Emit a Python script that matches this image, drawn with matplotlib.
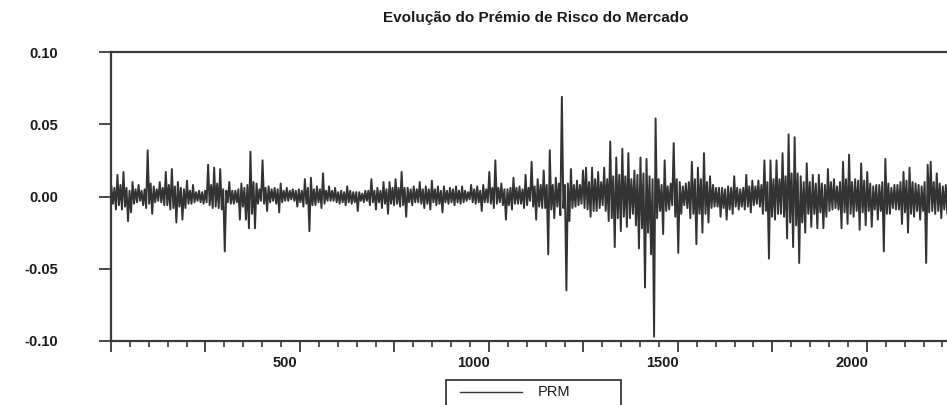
import matplotlib
matplotlib.use('Agg')
import matplotlib.pyplot as plt
import numpy as np
from matplotlib.ticker import MultipleLocator, FixedLocator, FixedFormatter, FuncFormatter
from matplotlib.patches import Rectangle
from matplotlib.lines import Line2D
import matplotlib.transforms as mtrans

plt.rcParams['font.family'] = ['Liberation Sans', 'DejaVu Sans']

title = "Evolução do Prémio de Risco do Mercado"
series_name = "PRM"
bucket_obs = 8  # each bucket covers 8 observations

# upper excursion of the series in each bucket
prm_hi = [
    0.007, 0.006, 0.015, 0.008, 0.017, 0.006, 0.004, 0.010, 0.005, 0.008,
    0.004, 0.005, 0.032, 0.009, 0.007, 0.005, 0.010, 0.006, 0.017, 0.008,
    0.019, 0.007, 0.010, 0.006, 0.005, 0.011, 0.004, 0.008, 0.003, 0.004,
    0.003, 0.004, 0.022, 0.008, 0.020, 0.009, 0.019, 0.005, 0.004, 0.010,
    0.004, 0.004, 0.005, 0.009, 0.006, 0.008, 0.031, 0.010, 0.009, 0.005,
    0.025, 0.006, 0.007, 0.005, 0.006, 0.005, 0.009, 0.004, 0.006, 0.004,
    0.005, 0.004, 0.005, 0.004, 0.012, 0.006, 0.013, 0.005, 0.007, 0.005,
    0.016, 0.004, 0.007, 0.004, 0.006, 0.003, 0.004, 0.003, 0.007, 0.004,
    0.003, 0.003, 0.003, 0.002, 0.004, 0.004, 0.012, 0.004, 0.006, 0.004,
    0.010, 0.005, 0.010, 0.006, 0.012, 0.006, 0.017, 0.006, 0.006, 0.005,
    0.007, 0.005, 0.010, 0.005, 0.007, 0.005, 0.011, 0.005, 0.007, 0.004,
    0.007, 0.004, 0.006, 0.005, 0.007, 0.004, 0.007, 0.004, 0.003, 0.008,
    0.005, 0.007, 0.004, 0.008, 0.005, 0.017, 0.006, 0.025, 0.006, 0.009,
    0.005, 0.005, 0.006, 0.013, 0.006, 0.007, 0.005, 0.015, 0.006, 0.024,
    0.007, 0.012, 0.008, 0.018, 0.008, 0.032, 0.008, 0.013, 0.009, 0.069,
    0.008, 0.009, 0.019, 0.008, 0.011, 0.008, 0.018, 0.020, 0.010, 0.020,
    0.012, 0.017, 0.010, 0.020, 0.012, 0.038, 0.014, 0.027, 0.015, 0.033,
    0.014, 0.030, 0.012, 0.018, 0.015, 0.027, 0.016, 0.026, 0.014, 0.012,
    0.054, 0.012, 0.008, 0.025, 0.007, 0.009, 0.037, 0.012, 0.010, 0.007,
    0.009, 0.010, 0.024, 0.012, 0.020, 0.012, 0.030, 0.010, 0.014, 0.008,
    0.006, 0.006, 0.006, 0.005, 0.007, 0.006, 0.014, 0.006, 0.005, 0.006,
    0.015, 0.007, 0.011, 0.007, 0.011, 0.008, 0.025, 0.010, 0.025, 0.012,
    0.025, 0.012, 0.030, 0.014, 0.043, 0.016, 0.041, 0.016, 0.014, 0.010,
    0.023, 0.010, 0.015, 0.009, 0.015, 0.009, 0.008, 0.019, 0.010, 0.012,
    0.007, 0.010, 0.024, 0.012, 0.029, 0.010, 0.012, 0.011, 0.023, 0.011,
    0.017, 0.009, 0.007, 0.008, 0.008, 0.010, 0.026, 0.009, 0.006, 0.008,
    0.008, 0.010, 0.017, 0.011, 0.020, 0.010, 0.009, 0.008, 0.007, 0.010,
    0.022, 0.024, 0.010, 0.016, 0.009, 0.007, 0.008,
]

# lower excursion of the series in each bucket
prm_lo = [
    -0.005, -0.009, -0.006, -0.009, -0.007, -0.017, -0.011, -0.005, -0.004, -0.003,
    -0.006, -0.008, -0.005, -0.012, -0.004, -0.003, -0.004, -0.006, -0.006, -0.009,
    -0.008, -0.018, -0.007, -0.016, -0.008, -0.005, -0.005, -0.004, -0.003, -0.004,
    -0.005, -0.004, -0.006, -0.008, -0.007, -0.008, -0.009, -0.038, -0.004, -0.005,
    -0.005, -0.004, -0.016, -0.007, -0.016, -0.022, -0.012, -0.022, -0.005, -0.003,
    -0.005, -0.010, -0.004, -0.003, -0.005, -0.011, -0.004, -0.003, -0.003, -0.002,
    -0.003, -0.007, -0.004, -0.007, -0.005, -0.024, -0.006, -0.006, -0.004, -0.008,
    -0.005, -0.003, -0.003, -0.003, -0.004, -0.005, -0.004, -0.006, -0.004, -0.005,
    -0.004, -0.010, -0.003, -0.004, -0.003, -0.006, -0.004, -0.009, -0.004, -0.008,
    -0.005, -0.012, -0.005, -0.006, -0.005, -0.007, -0.006, -0.014, -0.004, -0.006,
    -0.004, -0.004, -0.005, -0.008, -0.005, -0.009, -0.004, -0.006, -0.005, -0.011,
    -0.004, -0.005, -0.004, -0.006, -0.004, -0.005, -0.004, -0.003, -0.002, -0.004,
    -0.005, -0.004, -0.010, -0.004, -0.004, -0.005, -0.008, -0.005, -0.004, -0.006,
    -0.016, -0.006, -0.009, -0.005, -0.005, -0.005, -0.008, -0.006, -0.003, -0.007,
    -0.016, -0.007, -0.008, -0.008, -0.040, -0.009, -0.015, -0.007, -0.013, -0.008,
    -0.065, -0.017, -0.008, -0.007, -0.006, -0.005, -0.008, -0.009, -0.014, -0.010,
    -0.010, -0.008, -0.006, -0.010, -0.017, -0.015, -0.035, -0.015, -0.024, -0.014,
    -0.021, -0.015, -0.012, -0.020, -0.036, -0.022, -0.063, -0.025, -0.040, -0.097,
    -0.015, -0.010, -0.026, -0.010, -0.009, -0.006, -0.014, -0.039, -0.012, -0.006,
    -0.008, -0.015, -0.012, -0.033, -0.012, -0.025, -0.012, -0.018, -0.008, -0.007,
    -0.007, -0.014, -0.008, -0.016, -0.009, -0.012, -0.007, -0.009, -0.007, -0.009,
    -0.007, -0.011, -0.006, -0.005, -0.007, -0.012, -0.010, -0.043, -0.014, -0.016,
    -0.012, -0.012, -0.014, -0.029, -0.018, -0.035, -0.020, -0.046, -0.018, -0.025,
    -0.012, -0.021, -0.012, -0.022, -0.011, -0.022, -0.014, -0.010, -0.009, -0.008,
    -0.009, -0.022, -0.011, -0.019, -0.012, -0.014, -0.010, -0.023, -0.011, -0.020,
    -0.010, -0.021, -0.009, -0.016, -0.010, -0.038, -0.012, -0.012, -0.008, -0.009,
    -0.009, -0.019, -0.011, -0.025, -0.012, -0.014, -0.010, -0.016, -0.010, -0.046,
    -0.011, -0.010, -0.012, -0.010, -0.015, -0.009, -0.012,
]

ytick_values = [-0.10, -0.05, 0.00, 0.05, 0.10]
ytick_labels = ["-0.10", "-0.05", "0.00", "0.05", "0.10"]
xtick_labels = [500, 1000, 1500, 2000]

# build the series: high then low within each bucket
n = len(prm_hi)
start = np.arange(n) * bucket_obs + 1
obs = np.column_stack([start, start + bucket_obs // 2]).ravel()
prm = np.column_stack([prm_hi, prm_lo]).ravel()

W, H = 947, 405
fig = plt.figure(figsize=(W / 100, H / 100), dpi=100)
ax = fig.add_axes([111 / W, (H - 341) / H, 907 / W, (341 - 52) / H])

line_color = '#333333'
ax.plot(obs, prm, color=line_color, lw=1.4)

ax.set_xlim(0, 2400)
ax.set_ylim(-0.10, 0.10)

for s in ['left', 'top', 'bottom', 'right']:
    ax.spines[s].set_color('#3a3a3a')
    ax.spines[s].set_linewidth(1.6)

ax.yaxis.set_major_locator(FixedLocator(ytick_values))
ax.yaxis.set_major_formatter(FixedFormatter(ytick_labels))
ax.tick_params(axis='y', direction='out', length=9, width=1.3, pad=29,
               labelsize=10.5, colors='#3a3a3a', labelcolor='#1a1a1a')

ax.xaxis.set_major_locator(MultipleLocator(250))
ax.xaxis.set_minor_locator(MultipleLocator(50))
ax.xaxis.set_major_formatter(FuncFormatter(
    lambda v, p: str(int(round(v))) if int(round(v)) in xtick_labels else ''))
ax.tick_params(axis='x', which='major', direction='out', length=8, width=1.3,
               pad=3, labelsize=10.5, colors='#3a3a3a', labelcolor='#1a1a1a')
ax.tick_params(axis='x', which='minor', direction='out', length=4, width=1.2,
               colors='#3a3a3a')

for lab in ax.get_yticklabels() + ax.get_xticklabels():
    lab.set_fontweight('bold')

shift = mtrans.ScaledTranslation(-15 / 100, 0, fig.dpi_scale_trans)
for lab in ax.get_xticklabels():
    lab.set_transform(lab.get_transform() + shift)

fig.text(536 / W, 1 - 18 / H, title, ha='center', va='center',
         fontsize=11, fontweight='bold', color='#1a1a1a')

# legend box (cut off at bottom like the reference)
fig.patches.append(Rectangle((446 / W, (H - 422) / H), 175 / W, 42 / H,
                             transform=fig.transFigure, fill=False,
                             edgecolor='#3a3a3a', linewidth=1.3))
fig.lines.append(Line2D([460 / W, 522 / W], [(H - 392) / H] * 2,
                        transform=fig.transFigure, color=line_color, lw=1.0))
fig.text(538 / W, (H - 392) / H, series_name, ha='left', va='center',
         fontsize=10.5, color='#1a1a1a')

fig.savefig('out.png', dpi=100)
